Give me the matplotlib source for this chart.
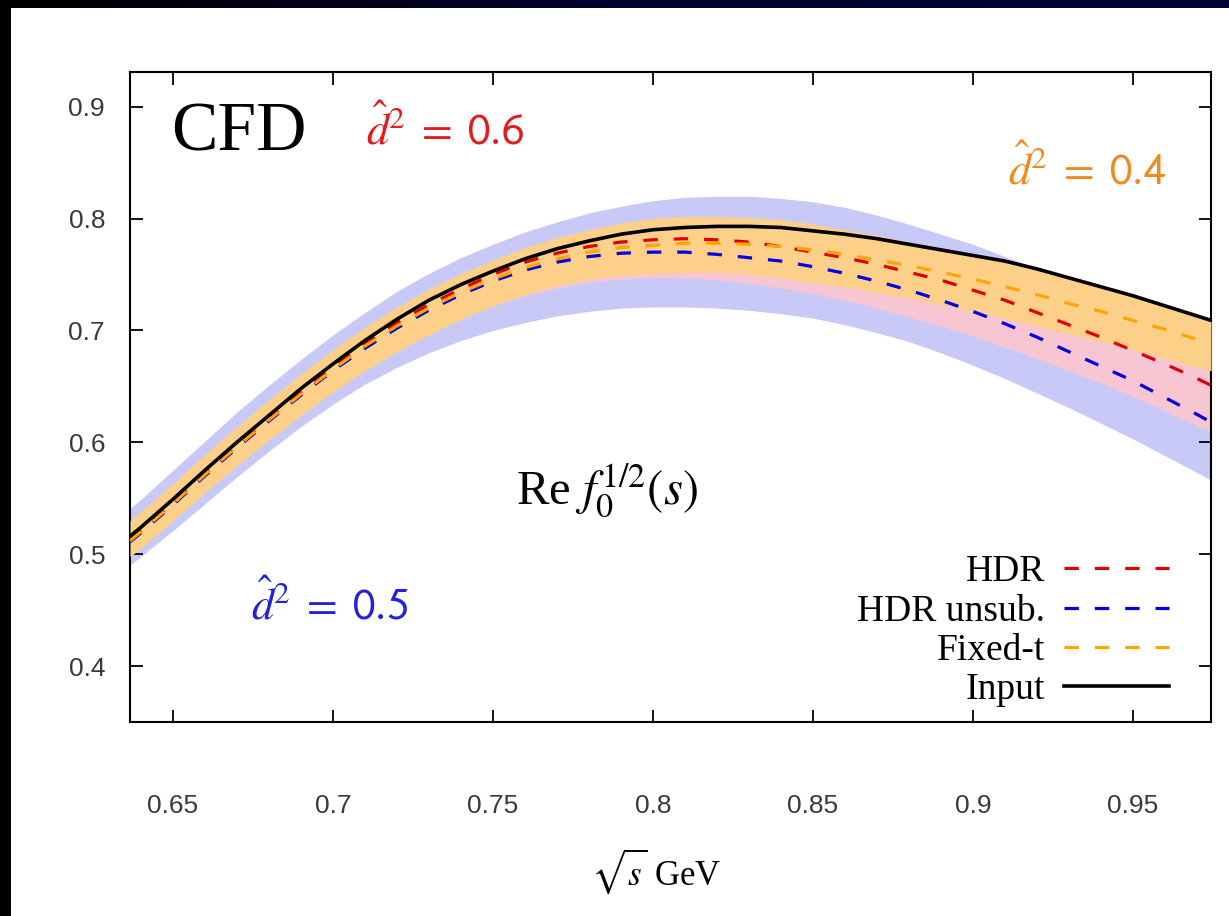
import numpy as np
import matplotlib
matplotlib.use("Agg")
import matplotlib.pyplot as plt

plt.rcParams['mathtext.fontset'] = 'stix'
plt.rcParams['font.family'] = ['Liberation Serif', 'DejaVu Serif']

# sqrt(s) grid in GeV
sqrt_s = [0.6366, 0.64, 0.65, 0.66, 0.67, 0.68, 0.69, 0.70, 0.71, 0.72, 0.73,
          0.74, 0.75, 0.76, 0.77, 0.78, 0.79, 0.80, 0.81, 0.82, 0.83, 0.84,
          0.85, 0.86, 0.87, 0.88, 0.89, 0.90, 0.91, 0.92, 0.93, 0.94, 0.95,
          0.96, 0.97, 0.9744]

re_input = [0.516, 0.524, 0.549, 0.575, 0.600, 0.624, 0.648, 0.670, 0.691, 0.710, 0.727,
            0.741, 0.753, 0.764, 0.773, 0.780, 0.786, 0.790, 0.792, 0.793, 0.793, 0.792,
            0.789, 0.786, 0.782, 0.777, 0.772, 0.767, 0.762, 0.755, 0.747, 0.739, 0.731,
            0.722, 0.713, 0.709]

re_fixed_t = [0.512, 0.520, 0.545, 0.571, 0.596, 0.620, 0.643, 0.665, 0.686, 0.704, 0.720,
              0.734, 0.746, 0.756, 0.764, 0.770, 0.774, 0.776, 0.778, 0.778, 0.777, 0.775,
              0.772, 0.768, 0.763, 0.758, 0.752, 0.746, 0.739, 0.732, 0.724, 0.717, 0.709,
              0.701, 0.692, 0.689]

re_hdr = [0.513, 0.521, 0.546, 0.572, 0.597, 0.621, 0.645, 0.667, 0.688, 0.707, 0.723,
          0.737, 0.750, 0.761, 0.769, 0.775, 0.779, 0.781, 0.782, 0.781, 0.779, 0.775,
          0.770, 0.765, 0.759, 0.752, 0.745, 0.736, 0.727, 0.716, 0.705, 0.694, 0.682,
          0.670, 0.657, 0.651]

re_hdr_unsub = [0.511, 0.519, 0.544, 0.570, 0.595, 0.619, 0.642, 0.664, 0.684, 0.702, 0.718,
                0.732, 0.744, 0.754, 0.761, 0.766, 0.769, 0.770, 0.770, 0.768, 0.765, 0.762,
                0.757, 0.751, 0.744, 0.736, 0.727, 0.717, 0.706, 0.694, 0.681, 0.668, 0.655,
                0.640, 0.625, 0.618]

# error bands: HDR unsub. (d^2=0.5), HDR (d^2=0.6), Fixed-t (d^2=0.4)
unsub_hi = [0.541, 0.549, 0.575, 0.601, 0.627, 0.651, 0.674, 0.696, 0.716, 0.735, 0.751,
            0.765, 0.777, 0.788, 0.797, 0.805, 0.811, 0.816, 0.819, 0.820, 0.820, 0.818,
            0.815, 0.810, 0.803, 0.795, 0.786, 0.777, 0.766, 0.755, 0.744, 0.733, 0.723,
            0.713, 0.704, 0.700]
unsub_lo = [0.490, 0.498, 0.521, 0.545, 0.569, 0.592, 0.614, 0.634, 0.652, 0.667, 0.680,
            0.691, 0.700, 0.707, 0.713, 0.717, 0.720, 0.721, 0.721, 0.720, 0.718, 0.715,
            0.711, 0.705, 0.698, 0.690, 0.680, 0.669, 0.657, 0.644, 0.631, 0.617, 0.603,
            0.588, 0.573, 0.566]

hdr_hi = [0.527, 0.535, 0.560, 0.586, 0.611, 0.635, 0.658, 0.680, 0.700, 0.718, 0.734,
          0.747, 0.759, 0.769, 0.778, 0.784, 0.789, 0.792, 0.794, 0.794, 0.792, 0.790,
          0.786, 0.781, 0.776, 0.770, 0.764, 0.757, 0.750, 0.742, 0.734, 0.725, 0.716,
          0.707, 0.697, 0.693]
hdr_lo = [0.500, 0.507, 0.532, 0.557, 0.581, 0.604, 0.626, 0.647, 0.666, 0.683, 0.698,
          0.711, 0.722, 0.731, 0.738, 0.743, 0.746, 0.747, 0.747, 0.745, 0.742, 0.738,
          0.733, 0.727, 0.720, 0.712, 0.704, 0.695, 0.685, 0.675, 0.664, 0.653, 0.641,
          0.628, 0.615, 0.610]

fixed_hi = [0.530, 0.538, 0.563, 0.589, 0.614, 0.638, 0.661, 0.683, 0.703, 0.721, 0.737,
            0.751, 0.763, 0.774, 0.783, 0.790, 0.796, 0.800, 0.802, 0.802, 0.801, 0.799,
            0.795, 0.790, 0.785, 0.779, 0.773, 0.767, 0.761, 0.754, 0.746, 0.738, 0.730,
            0.721, 0.712, 0.708]
fixed_lo = [0.498, 0.505, 0.530, 0.555, 0.579, 0.602, 0.624, 0.645, 0.664, 0.681, 0.696,
            0.710, 0.722, 0.732, 0.740, 0.746, 0.749, 0.751, 0.752, 0.752, 0.750, 0.747,
            0.743, 0.739, 0.734, 0.729, 0.723, 0.717, 0.711, 0.704, 0.697, 0.690, 0.683,
            0.675, 0.667, 0.664]

x_ticks = [0.65, 0.7, 0.75, 0.8, 0.85, 0.9, 0.95]
x_ticklabels = ['0.65', '0.7', '0.75', '0.8', '0.85', '0.9', '0.95']
y_ticks = [0.4, 0.5, 0.6, 0.7, 0.8, 0.9]
y_ticklabels = ['0.4', '0.5', '0.6', '0.7', '0.8', '0.9']

fig = plt.figure(figsize=(12.29, 9.16), dpi=100)
fig.patch.set_facecolor('white')

# dark frame: gradient strip on top, black strip on the left
bar = fig.add_axes([0, 1 - 8 / 916, 1, 8 / 916])
grad = np.linspace(0, 1, 256).reshape(1, -1)
bar.imshow(grad, aspect='auto', cmap=matplotlib.colors.LinearSegmentedColormap.from_list(
    'frame', ['#000000', '#00002e', '#000033']))
bar.set_axis_off()
side = fig.add_axes([0, 0, 11 / 1229, 1 - 8 / 916])
side.set_facecolor('black')
side.set_xticks([])
side.set_yticks([])
for s in side.spines.values():
    s.set_visible(False)

ax = fig.add_axes([130 / 1229, 1 - 722 / 916, (1211 - 130) / 1229, (722 - 72) / 916])

ax.fill_between(sqrt_s, unsub_lo, unsub_hi, color='#c9c9f7', lw=0, zorder=1)
ax.fill_between(sqrt_s, hdr_lo, hdr_hi, color='#f7c6d2', lw=0, zorder=2)
ax.fill_between(sqrt_s, fixed_lo, fixed_hi, color='#fdd08a', lw=0, zorder=3)

dash = (4.5, 5.0)
ax.plot(sqrt_s, re_hdr, color='#e00000', lw=2.3, dashes=dash, label='HDR', zorder=5)
ax.plot(sqrt_s, re_hdr_unsub, color='#0000e0', lw=2.3, dashes=dash, label='HDR unsub.', zorder=5)
ax.plot(sqrt_s, re_fixed_t, color='#ffa500', lw=2.3, dashes=dash, label='Fixed-t', zorder=5)
ax.plot(sqrt_s, re_input, color='black', lw=2.6, label='Input', zorder=6)

ax.set_xlim(0.6366, 0.9744)
ax.set_ylim(0.35, 0.931)
tick_font = dict(family=['Liberation Sans', 'DejaVu Sans'], fontsize=19, color='#3a3a3a')
ax.set_xticks(x_ticks)
ax.set_xticklabels(x_ticklabels, **tick_font)
ax.set_yticks(y_ticks)
ax.set_yticklabels(y_ticklabels, **tick_font)
ax.tick_params(direction='in', length=9, width=1.3, top=True, right=True)
ax.tick_params(axis='x', pad=52)
ax.tick_params(axis='y', pad=18)
for s in ax.spines.values():
    s.set_linewidth(1.5)

ax.set_xlabel(r'$\sqrt{s}$ GeV', fontsize=25)
ax.xaxis.set_label_coords(0.487, -0.192)

ax.text(0.6495, 0.876, 'CFD', fontsize=50, va='center', ha='left')
ax.text(0.7105, 0.880, r'$\hat{d}^2\;=\;\mathsf{0.6}$', fontsize=32, color='#e41a1c', va='center')
ax.text(0.9605, 0.844, r'$\hat{d}^2\;=\;\mathsf{0.4}$', fontsize=32, color='#f08a1e', va='center', ha='right')
ax.text(0.6745, 0.455, r'$\hat{d}^2\;=\;\mathsf{0.5}$', fontsize=32, color='#2222dd', va='center')
ax.text(0.7856, 0.557, r'Re $f_0^{1/2}(s)$', fontsize=35, va='center', ha='center')

ax.legend(loc='lower right', bbox_to_anchor=(0.985, -0.018), frameon=False,
          markerfirst=False, fontsize=27, handlelength=2.8, handletextpad=0.5,
          labelspacing=0.13, borderaxespad=0.3)

fig.savefig('out.png', dpi=100)
